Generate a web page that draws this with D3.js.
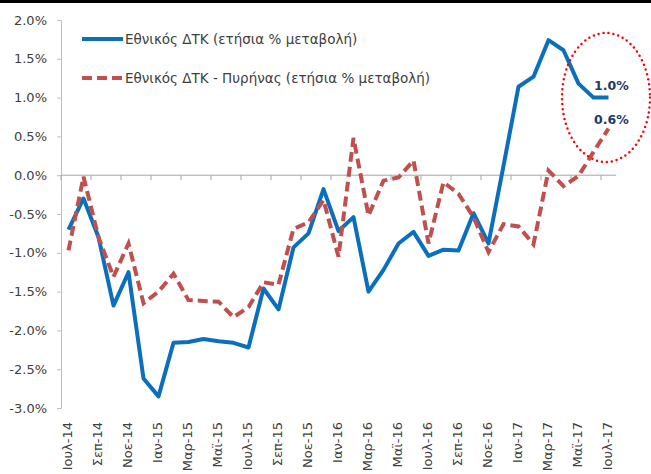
<!DOCTYPE html>
<html>
<head>
<meta charset="utf-8">
<script src="https://cdn.jsdelivr.net/npm/d3@7"></script>
<style>
    body { margin: 0; background: #fff; }
    svg { display: block; }
    text { font-family: "DejaVu Sans", "Open Sans", sans-serif; }
</style>
</head>
<body>
<div id="chart"></div>
<script>

    // monthly data, Jul-14 .. Jul-17
    var months = ["Ιουλ-14", "Αυγ-14", "Σεπ-14", "Οκτ-14", "Νοε-14", "Δεκ-14",
        "Ιαν-15", "Φεβ-15", "Μαρ-15", "Απρ-15", "Μαϊ-15", "Ιουν-15",
        "Ιουλ-15", "Αυγ-15", "Σεπ-15", "Οκτ-15", "Νοε-15", "Δεκ-15",
        "Ιαν-16", "Φεβ-16", "Μαρ-16", "Απρ-16", "Μαϊ-16", "Ιουν-16",
        "Ιουλ-16", "Αυγ-16", "Σεπ-16", "Οκτ-16", "Νοε-16", "Δεκ-16",
        "Ιαν-17", "Φεβ-17", "Μαρ-17", "Απρ-17", "Μαϊ-17", "Ιουν-17", "Ιουλ-17"];

    var headline = [-0.7, -0.3, -0.8, -1.68, -1.25, -2.62, -2.85, -2.16, -2.15, -2.11, -2.14, -2.16,
        -2.22, -1.46, -1.73, -0.93, -0.75, -0.18, -0.72, -0.54, -1.5, -1.22, -0.88, -0.73,
        -1.04, -0.96, -0.97, -0.49, -0.88, 0.12, 1.14, 1.27, 1.74, 1.61, 1.18, 1.0, 1.0];

    var core = [-0.97, -0.02, -0.8, -1.31, -0.88, -1.65, -1.5, -1.27, -1.61, -1.62, -1.63, -1.83,
        -1.7, -1.38, -1.41, -0.69, -0.61, -0.32, -1.05, 0.48, -0.52, -0.07, -0.03, 0.19,
        -0.88, -0.09, -0.24, -0.54, -0.99, -0.63, -0.66, -0.89, 0.06, -0.14, -0.01, 0.3, 0.6];

    var seriesNames = ["Εθνικός ΔΤΚ (ετήσια % μεταβολή)",
        "Εθνικός ΔΤΚ - Πυρήνας (ετήσια % μεταβολή)"];

    var yTicks = [2.0, 1.5, 1.0, 0.5, 0.0, -0.5, -1.0, -1.5, -2.0, -2.5, -3.0];
    var endLabels = ["1.0%", "0.6%"];

    var width = 651, height = 474;
    var blue = "#0b6fbd", red = "#c0504d", textColor = "#404040";

    var svg = d3.select("#chart").append("svg")
        .attr("width", width)
        .attr("height", height);

    // black rule on top
    svg.append("rect")
        .attr("x", 0).attr("y", 0)
        .attr("width", width).attr("height", 3)
        .attr("fill", "#000");

    var x = d3.scaleBand().domain(months).range([61, 616]);
    var y = d3.scaleLinear().domain([-3, 2]).range([408, 20]);
    var cx = d => x(d) + x.bandwidth() / 2;

    // y axis
    var yAxis = svg.append("g")
        .attr("transform", "translate(61,0)")
        .call(d3.axisLeft(y)
            .tickValues(yTicks)
            .tickSize(4)
            .tickPadding(10)
            .tickFormat(d => d.toFixed(1) + "%"));
    yAxis.select(".domain").attr("stroke", "#bfbfbf");
    yAxis.selectAll(".tick line").attr("stroke", "#bfbfbf");
    yAxis.selectAll(".tick text")
        .attr("fill", textColor)
        .style("font-family", "DejaVu Sans")
        .style("font-size", "13px");

    // zero line with tick marks every 2 months (category boundaries)
    svg.append("line")
        .attr("x1", 61).attr("x2", 616)
        .attr("y1", y(0)).attr("y2", y(0))
        .attr("stroke", "#a6a6a6");
    svg.append("g")
        .selectAll("line")
        .data(months.filter((d, i) => i % 2 === 0))
        .join("line")
        .attr("x1", d => x(d)).attr("x2", d => x(d))
        .attr("y1", y(0)).attr("y2", y(0) + 5)
        .attr("stroke", "#a6a6a6");

    // category labels at the bottom
    svg.append("g")
        .selectAll("text")
        .data(months.filter((d, i) => i % 2 === 0))
        .join("text")
        .attr("transform", d => "translate(" + (cx(d) - 1) + ",422) rotate(-90)")
        .attr("text-anchor", "end")
        .attr("dy", "0.35em")
        .attr("fill", textColor)
        .style("font-size", "13px")
        .text(d => d);

    var line = d3.line()
        .x((d, i) => cx(months[i]))
        .y(d => y(d));

    svg.append("path")
        .datum(headline)
        .attr("fill", "none")
        .attr("stroke", blue)
        .attr("stroke-width", 4)
        .attr("stroke-linejoin", "round")
        .attr("d", line);

    svg.append("path")
        .datum(core)
        .attr("fill", "none")
        .attr("stroke", red)
        .attr("stroke-width", 4)
        .attr("stroke-dasharray", "10,5")
        .attr("d", line);

    // legend
    var legend = svg.append("g");
    legend.append("line")
        .attr("x1", 82).attr("x2", 123).attr("y1", 39).attr("y2", 39)
        .attr("stroke", blue).attr("stroke-width", 4);
    legend.append("line")
        .attr("x1", 82).attr("x2", 123).attr("y1", 78).attr("y2", 78)
        .attr("stroke", red).attr("stroke-width", 4)
        .attr("stroke-dasharray", "10,5");
    legend.selectAll("text")
        .data(seriesNames)
        .join("text")
        .attr("x", 125)
        .attr("y", (d, i) => 44 + i * 39)
        .attr("fill", textColor)
        .style("font-size", "13.5px")
        .text(d => d);

    // end-value annotations and dotted ellipse
    svg.append("g")
        .selectAll("text")
        .data(endLabels)
        .join("text")
        .attr("x", 594)
        .attr("y", (d, i) => 90 + i * 34)
        .attr("fill", "#1f3864")
        .style("font-size", "12.5px")
        .style("font-weight", "bold")
        .text(d => d);

    svg.append("ellipse")
        .attr("cx", 606).attr("cy", 97.5)
        .attr("rx", 44).attr("ry", 64.5)
        .attr("fill", "none")
        .attr("stroke", "#ff0000")
        .attr("stroke-width", 2.5)
        .attr("stroke-linecap", "round")
        .attr("stroke-dasharray", "0,5");

</script>
</body>
</html>
